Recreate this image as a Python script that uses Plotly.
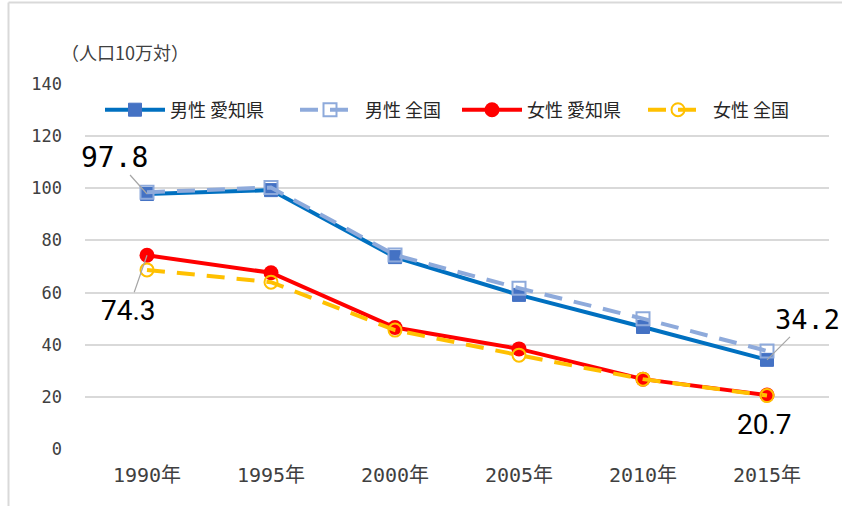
import plotly.graph_objects as go

years = ["1990年", "1995年", "2000年", "2005年", "2010年", "2015年"]
male_aichi = [97.8, 99.3, 73.6, 59.1, 46.8, 34.2]
male_national = [98.5, 100.3, 74.4, 61.7, 50.0, 37.6]
female_aichi = [74.3, 67.6, 46.6, 38.4, 26.8, 20.7]
female_national = [68.7, 64.0, 45.6, 36.0, 26.8, 20.5]
names = ["男性 愛知県", "男性 全国", "女性 愛知県", "女性 全国"]
yticks = [0, 20, 40, 60, 80, 100, 120, 140]

FONT = "Noto Sans CJK JP"
MONO = "DejaVu Sans Mono, Noto Sans CJK JP"
W, H = 842, 506
L, R, T, B = 85, 13, 84, 57
pw, ph = W - L - R, H - T - B

def px_to_paper_x(px):
    return (px - L) / pw

def px_to_paper_y(py):
    return (H - B - py) / ph

fig = go.Figure()
fig.add_trace(go.Scatter(
    x=years, y=male_aichi, name=names[0], mode="lines+markers", legend="legend",
    line=dict(color="#0070c0", width=4),
    marker=dict(symbol="square", size=13, color="#4472c4", line=dict(color="#4472c4", width=1)),
))
fig.add_trace(go.Scatter(
    x=years, y=male_national, name=names[1], mode="lines+markers", legend="legend2",
    line=dict(color="#8eaadb", width=4, dash="18px,12px"),
    marker=dict(symbol="square-open", size=13, color="#8eaadb", line=dict(width=2)),
))
fig.add_trace(go.Scatter(
    x=years, y=female_aichi, name=names[2], mode="lines+markers", legend="legend3",
    line=dict(color="#ff0000", width=4),
    marker=dict(symbol="circle", size=15, color="#ff0000"),
))
fig.add_trace(go.Scatter(
    x=years, y=female_national, name=names[3], mode="lines+markers", legend="legend4",
    line=dict(color="#ffc000", width=4, dash="18px,12px"),
    marker=dict(symbol="circle-open", size=13, color="#ffc000", line=dict(width=2)),
))

ann_font = dict(family="Roboto", size=28, color="#000000")
mono_font = dict(family="DejaVu Sans Mono", size=28, color="#000000")
mono_font_r = dict(family="DejaVu Sans Mono", size=27, color="#000000")
annotations = [
    dict(x=years[0], y=male_aichi[0], text=f"{male_aichi[0]}", font=mono_font,
         showarrow=True, arrowhead=0, arrowwidth=1.2, arrowcolor="#a6a6a6",
         ax=-33, ay=-37, standoff=0),
    dict(x=years[0], y=female_aichi[0], text=f"{female_aichi[0]}", font=ann_font,
         showarrow=True, arrowhead=0, arrowwidth=1.2, arrowcolor="#a6a6a6",
         ax=-19, ay=55, standoff=0),
    dict(x=years[-1], y=male_aichi[-1], text=f"{male_aichi[-1]}", font=mono_font_r,
         showarrow=True, arrowhead=0, arrowwidth=1.2, arrowcolor="#a6a6a6",
         ax=40, ay=-40, standoff=0),
    dict(x=years[-1], y=female_aichi[-1], text=f"{female_aichi[-1]}", font=ann_font,
         showarrow=False, xshift=-3, yshift=-29),
    dict(x=px_to_paper_x(59), y=px_to_paper_y(52), xref="paper", yref="paper",
         xanchor="left", yanchor="middle", text="（人口10万対）", showarrow=False,
         font=dict(family=FONT, size=18, color="#404040")),
]

shapes = [
    dict(type="line", xref="paper", yref="paper",
         x0=px_to_paper_x(8.5), x1=px_to_paper_x(8.5), y0=px_to_paper_y(2.5), y1=px_to_paper_y(506),
         line=dict(color="#d9d9d9", width=2)),
    dict(type="line", xref="paper", yref="paper",
         x0=px_to_paper_x(8.5), x1=px_to_paper_x(842), y0=px_to_paper_y(2.5), y1=px_to_paper_y(2.5),
         line=dict(color="#d9d9d9", width=2)),
]

def leg(xpx):
    return dict(orientation="h", x=px_to_paper_x(xpx), xanchor="left",
                y=px_to_paper_y(110), yanchor="middle",
                bgcolor="rgba(0,0,0,0)", font=dict(family=FONT, size=18, color="#262626"),
                itemwidth=60)

fig.update_layout(
    width=W, height=H,
    margin=dict(l=L, r=R, t=T, b=B, autoexpand=False),
    paper_bgcolor="white", plot_bgcolor="white",
    font=dict(family=FONT, size=16, color="#404040"),
    showlegend=True,
    legend=leg(100), legend2=leg(295), legend3=leg(457), legend4=leg(643),
    annotations=annotations,
    shapes=shapes,
)
fig.update_xaxes(range=[-0.5, len(years) - 0.5], showgrid=False, showline=False, ticks="",
                 ticklabelstandoff=12, tickfont=dict(family=MONO, size=20, color="#404040"))
fig.update_yaxes(range=[0, 140], tickvals=yticks, showgrid=True, gridcolor="#d9d9d9",
                 gridwidth=1.5, zeroline=False, showline=False, ticks="",
                 ticklabelstandoff=22, tickfont=dict(family=MONO, size=17, color="#404040"))

fig.write_html("out.html", config={"displayModeBar": False},
               post_script="document.body.style.margin='0';")
